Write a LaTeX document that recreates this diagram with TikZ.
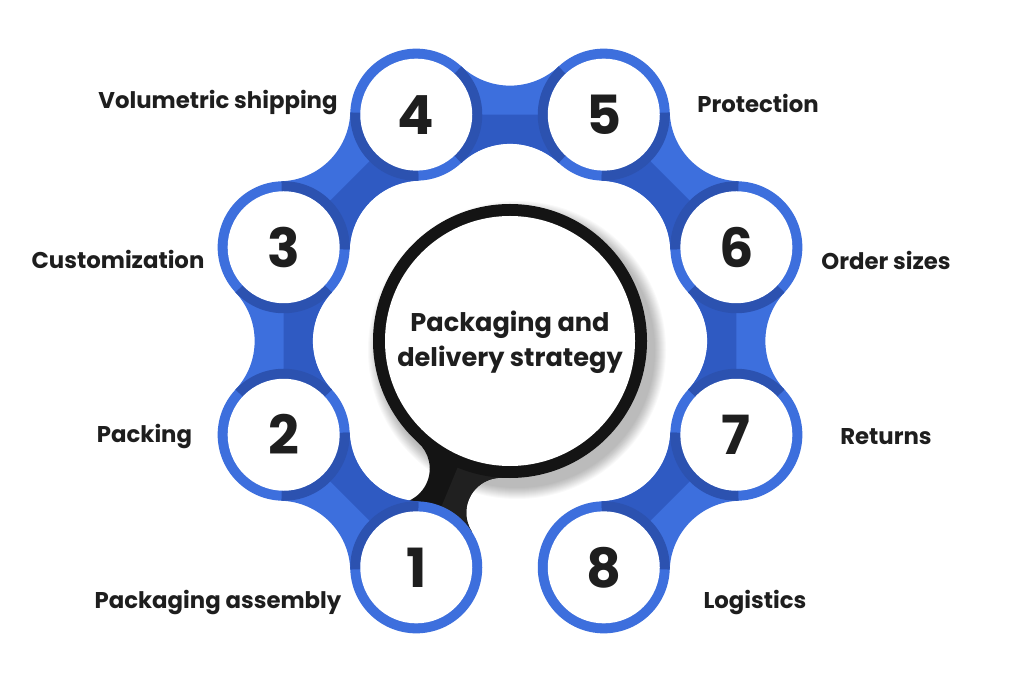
\documentclass[tikz,border=0pt]{standalone}
\usepackage{fontspec}
\setmainfont{Poppins}
\usetikzlibrary{calc}
\definecolor{bb}{HTML}{3D6FDD}
\definecolor{bd}{HTML}{2F5AC2}
\definecolor{br}{HTML}{2C52B0}
\definecolor{tx}{HTML}{1E1E1E}
\definecolor{stemA}{HTML}{141414}
\definecolor{stemB}{HTML}{202020}
\newcommand\bandfull{(0,0) -- (45.07,48.22) arc[start angle=226.92,end angle=313.08,radius=71.27] -- (187.5,0) -- (142.43,-48.22) arc[start angle=46.92,end angle=133.08,radius=71.27] -- cycle}
\newcommand\bandup{(0,0) -- (45.07,48.22) arc[start angle=226.92,end angle=313.08,radius=71.27] -- (187.5,0) -- cycle}
\newcommand\stemfull{(0,0) -- (129.08,45.90) arc[start angle=199.57,end angle=325.21,radius=35] -- (245,0) -- (190.80,-37.65) arc[start angle=34.79,end angle=160.43,radius=35] -- cycle}
\newcommand\stemup{(0,0) -- (129.08,45.90) arc[start angle=199.57,end angle=325.21,radius=35] -- (245,0) -- cycle}
\begin{document}
\begin{tikzpicture}[x=1pt,y=1pt,
  lbl/.style={font=\bfseries\fontsize{22.8}{27}\selectfont, text=tx, inner sep=0pt},
  numc/.style={circle, fill=white, minimum size=112pt, inner sep=0pt, font=\bfseries\fontsize{54}{60}\selectfont, text=tx},
  ctext/.style={font=\bfseries\fontsize{25.6}{35}\selectfont, text=tx, align=center, inner sep=0pt}]
\useasboundingbox (0,0) rectangle (1024,683);
\fill[white] (0,0) rectangle (1024,683);
\coordinate (O) at (510,342);
\foreach \i/\a in {1/247.5,2/202.5,3/157.5,4/112.5,5/67.5,6/22.5,7/-22.5,8/-67.5}
  \coordinate (c\i) at ($(O)+(\a:245)$);
% shadow of the centre circle
\foreach \k in {0,...,11}
  \fill[black, opacity=0.022] ($(O)+(7,-9)$) circle ({149-\k});
% stem
\begin{scope}[shift={(O)}, rotate=247.5]
  \fill[stemA] \stemfull;
  \fill[stemB] \stemup;
\end{scope}
% centre circle
\node[circle, fill=stemA, minimum size=274pt, inner sep=0pt] (hub) at (O) {};
\node[circle, fill=white, minimum size=250pt, inner sep=0pt] (hubin) at (O) {};
\node[ctext] (ct) at ($(O)+(0,-1)$) {Packaging and\\delivery strategy};
% blue discs
\foreach \i in {1,...,8} \fill[bb] (c\i) circle (66);
% bands
\foreach \A/\B/\a in {2/1/202.5,3/2/157.5,4/3/112.5,5/4/67.5,6/5/22.5,7/6/-22.5,8/7/-67.5}{
  \begin{scope}[shift={(c\A)}, rotate=\a+112.5]
    \fill[bb] \bandfull;
    \fill[bd] \bandup;
    \begin{scope}
      \clip \bandfull;
      \fill[br, even odd rule] (0,0) circle (66) (0,0) circle (56) (187.5,0) circle (66) (187.5,0) circle (56);
    \end{scope}
  \end{scope}
}
% numbered circles
\foreach \i in {1,...,8}
  \node[numc] (n\i) at (c\i) {\raisebox{-4pt}{\i}};
% labels
\node[lbl] (l4) at (218,580) {Volumetric shipping};
\node[lbl] (l3) at (118,424) {Customization};
\node[lbl] (l2) at (144.5,246) {Packing};
\node[lbl] (l1) at (218,81) {Packaging assembly};
\node[lbl] (l5) at (758,580) {Protection};
\node[lbl] (l6) at (886,423) {Order sizes};
\node[lbl] (l7) at (886,246) {Returns};
\node[lbl] (l8) at (755,81) {Logistics};
\end{tikzpicture}
\end{document}
